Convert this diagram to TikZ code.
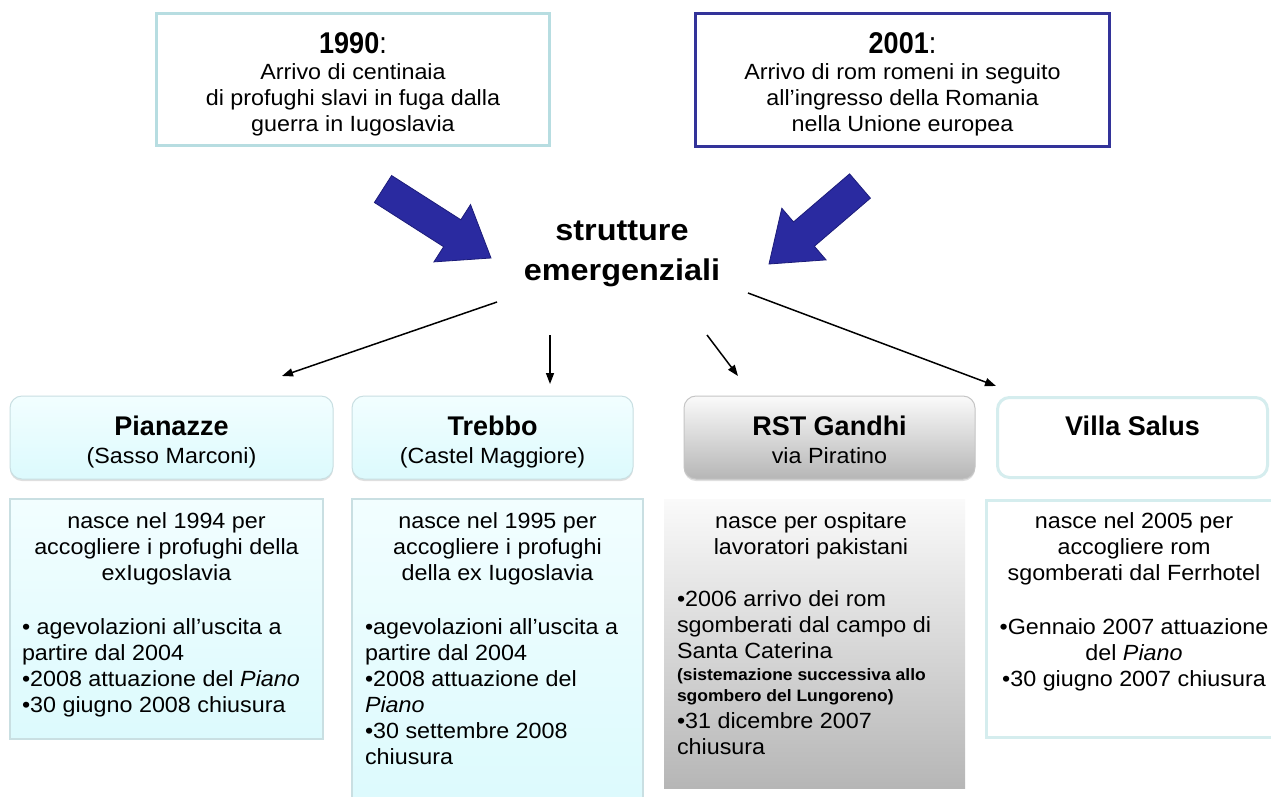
\documentclass[tikz,border=0pt]{standalone}
\usepackage{fontspec}
\setmainfont{Liberation Sans}
\newfontfamily\bodyf{Liberation Sans}[FakeStretch=1.06]
\newfontfamily\yearf{Liberation Sans}[FakeStretch=0.9]
\newfontfamily\centf{Liberation Sans}[FakeStretch=1.08]
\usetikzlibrary{arrows.meta,calc,shadows}
\definecolor{topL}{HTML}{B7DDE1}
\definecolor{topR}{HTML}{333399}
\definecolor{arrowblue}{HTML}{2A2AA0}
\definecolor{arrowdark}{HTML}{1C1C7A}
\definecolor{cyanTop}{HTML}{F2FEFF}
\definecolor{cyanBot}{HTML}{DCFAFD}
\definecolor{cyanLine}{HTML}{C9DFE2}
\definecolor{grayTop}{HTML}{FAFAFA}
\definecolor{grayBot}{HTML}{B6B6B6}
\definecolor{salusLine}{HTML}{D5EDEE}
\newcommand\blockarr[2]{%
  \coordinate (#1h) at ($(#2)!46pt!(#1)$);
  \filldraw[fill=arrowblue, draw=arrowdark, line width=0.8pt, line join=miter]
    ($(#1)!16pt!90:(#2)$) -- ($(#1h)!16pt!-90:(#1)$) -- ($(#1h)!34pt!-90:(#1)$)
    -- (#2) -- ($(#1h)!34pt!90:(#1)$) -- ($(#1h)!16pt!90:(#1)$)
    -- ($(#1)!16pt!-90:(#2)$) -- cycle;}
\begin{document}
\begin{tikzpicture}[x=1pt,y=-1pt,
  every node/.style={inner sep=0pt, outer sep=0pt},
  topbox/.style={draw, line width=3pt, fill=white},
  hdrcyan/.style={draw=cyanLine, line width=1pt, rounded corners=12pt, top color=cyanTop, bottom color=cyanBot,
     drop shadow={opacity=0.25, shadow xshift=0pt, shadow yshift=-2pt}},
  hdrgray/.style={draw=grayBot!80, line width=1pt, rounded corners=12pt, top color=grayTop, bottom color=grayBot,
     drop shadow={opacity=0.25, shadow xshift=0pt, shadow yshift=-2pt}},
  hdrwhite/.style={draw=salusLine, line width=3pt, rounded corners=12pt, fill=white},
  bodycyan/.style={draw=cyanLine, line width=1.5pt, top color=cyanTop, bottom color=cyanBot},
  bodygray/.style={draw=none, top color=grayTop, bottom color=grayBot},
  bodywhite/.style={draw=salusLine, line width=3pt, fill=white},
  bodytext/.style={font=\bodyf\fontsize{22}{26}\selectfont},
  smalltext/.style={font=\bodyf\bfseries\fontsize{16.5}{21}\selectfont},
  yeartext/.style={font=\yearf\bfseries\fontsize{30}{30}\selectfont},
  centertext/.style={font=\centf\bfseries\fontsize{30}{40}\selectfont, align=center},
  titletext/.style={font=\bfseries\fontsize{27}{30}\selectfont},
  subtext/.style={font=\bodyf\fontsize{22}{24}\selectfont},
  thinarrow/.style={line width=1.5pt, -{Triangle[length=11pt,width=8pt]}}]
\useasboundingbox (0,0) rectangle (1271,796);
\fill[white] (0,0) rectangle (1271,796);

% top boxes
\node[topbox, draw=topL, minimum width=393pt, minimum height=132pt] (box1990) at (353,79.5) {};
\node[topbox, draw=topR, minimum width=414pt, minimum height=133pt] (box2001) at (902.5,80) {};
\node[yeartext, anchor=base] (y1990) at (353,53) {1990{\mdseries:}};
\node[yeartext, anchor=base] (y2001) at (902.5,53) {2001{\mdseries:}};
\node[bodytext, align=center, anchor=north] (d1990) at (353,64) {Arrivo di centinaia\\di profughi slavi in fuga dalla\\guerra in Iugoslavia};
\node[bodytext, align=center, anchor=north] (d2001) at (902.5,64) {Arrivo di rom romeni in seguito\\all’ingresso della Romania\\nella Unione europea};

% blue block arrows
\coordinate (bl) at (383,189); \coordinate (blt) at (491,258);
\coordinate (br) at (860,186); \coordinate (brt) at (769,264);
\blockarr{bl}{blt}
\blockarr{br}{brt}

% center
\node[centertext] (center) at (622,254) {strutture\\emergenziali};

% thin arrows
\coordinate (a1s) at (497,302); \coordinate (a1e) at (282,376);
\coordinate (a2s) at (550,335); \coordinate (a2e) at (550,384);
\coordinate (a3s) at (707,335); \coordinate (a3e) at (738,376);
\coordinate (a4s) at (748,293); \coordinate (a4e) at (996,386);
\draw[thinarrow] (a1s) -- (a1e);
\draw[thinarrow] (a2s) -- (a2e);
\draw[thinarrow] (a3s) -- (a3e);
\draw[thinarrow] (a4s) -- (a4e);

% header boxes
\node[hdrcyan, minimum width=323pt, minimum height=83pt] (h1) at (171.5,437.5) {};
\node[hdrcyan, minimum width=281pt, minimum height=83pt] (h2) at (492.5,437.5) {};
\node[hdrgray, minimum width=291pt, minimum height=83pt] (h3) at (829.5,437.5) {};
\node[hdrwhite, minimum width=270pt, minimum height=80pt] (h4) at (1132.5,437.5) {};
\node[titletext, anchor=base] (t1) at (171.5,435) {Pianazze};
\node[subtext, anchor=base] (s1) at (171.5,463) {(Sasso Marconi)};
\node[titletext, anchor=base] (t2) at (492.5,435) {Trebbo};
\node[subtext, anchor=base] (s2) at (492.5,463) {(Castel Maggiore)};
\node[titletext, anchor=base] (t3) at (829.5,435) {RST Gandhi};
\node[subtext, anchor=base] (s3) at (829.5,463) {via Piratino};
\node[titletext, anchor=base] (t4) at (1132.5,435) {Villa Salus};

% body boxes
\node[bodycyan, minimum width=313pt, minimum height=240pt] (b1) at (166.5,619) {};
\node[bodycyan, minimum width=291pt, minimum height=305pt] (b2) at (497.5,651.5) {};
\node[bodygray, minimum width=301pt, minimum height=289pt] (b3) at (814.5,643.5) {};
\node[bodywhite, minimum width=297pt, minimum height=237pt] (b4) at (1135,619) {};

% body texts
\node[bodytext, align=center, anchor=north] (c1) at (166.5,513) {nasce nel 1994 per\\accogliere i profughi della\\exIugoslavia};
\node[bodytext, align=left, anchor=north west] (l1) at (22,619) {• agevolazioni all’uscita a\\partire dal 2004\\•2008 attuazione del \textit{Piano}\\•30 giugno 2008 chiusura};

\node[bodytext, align=center, anchor=north] (c2) at (497.5,513) {nasce nel 1995 per\\accogliere i profughi\\della ex Iugoslavia};
\node[bodytext, align=left, anchor=north west] (l2) at (365,619) {•agevolazioni all’uscita a\\partire dal 2004\\•2008 attuazione del\\\textit{Piano}\\•30 settembre 2008\\chiusura};

\node[bodytext, align=center, anchor=north] (c3) at (811,513) {nasce per ospitare\\lavoratori pakistani};
\node[bodytext, align=left, anchor=north west] (l3a) at (677,591) {•2006 arrivo dei rom\\sgomberati dal campo di\\Santa Caterina};
\node[smalltext, align=left, anchor=north west] (l3b) at (677,669) {(sistemazione successiva allo\\sgombero del Lungoreno)};
\node[bodytext, align=left, anchor=north west] (l3c) at (677,713) {•31 dicembre 2007\\chiusura};

\node[bodytext, align=center, anchor=north] (c4) at (1134,513) {nasce nel 2005 per\\accogliere rom\\sgomberati dal Ferrhotel};
\node[bodytext, align=center, anchor=north] (l4) at (1134,619) {•Gennaio 2007 attuazione\\del \textit{Piano}\\•30 giugno 2007 chiusura};
\end{tikzpicture}
\end{document}
